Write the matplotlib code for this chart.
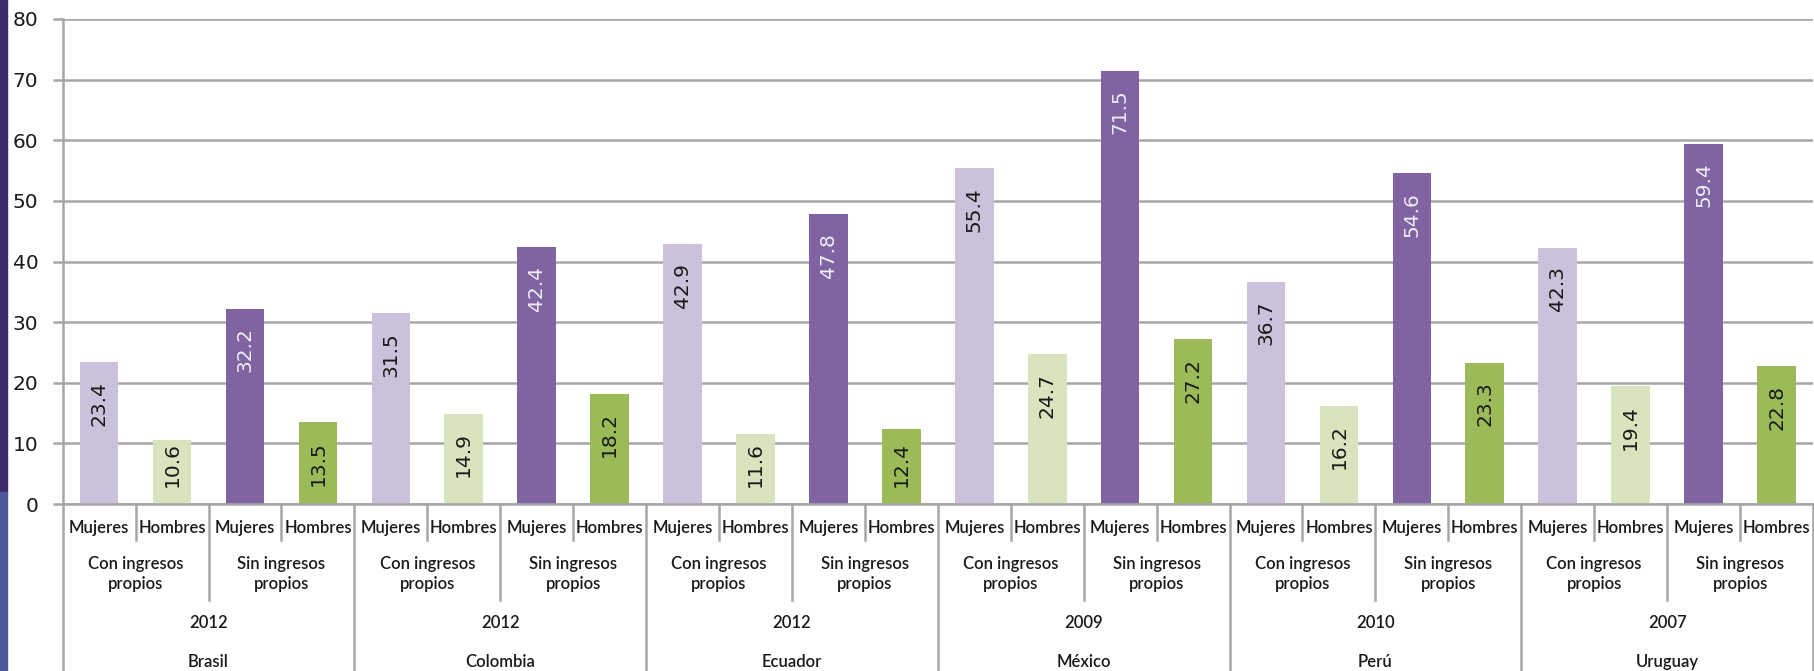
import numpy as np
import matplotlib.pyplot as plt
from matplotlib.patches import Rectangle

paises = ["Brasil", "Colombia", "Ecuador", "México", "Perú", "Uruguay"]
anios = ["2012", "2012", "2012", "2009", "2010", "2007"]
grupos = ["Con ingresos\npropios", "Sin ingresos\npropios"]
sexos = ["Mujeres", "Hombres"]

# orden por pais: con ingresos (mujeres, hombres), sin ingresos (mujeres, hombres)
con_mujeres = [23.4, 31.5, 42.9, 55.4, 36.7, 42.3]
con_hombres = [10.6, 14.9, 11.6, 24.7, 16.2, 19.4]
sin_mujeres = [32.2, 42.4, 47.8, 71.5, 54.6, 59.4]
sin_hombres = [13.5, 18.2, 12.4, 27.2, 23.3, 22.8]

colores = ["#ccc1da", "#d7e4bd", "#8064a2", "#9bbb59"]
col_texto = ["#1a1a1a", "#1a1a1a", "#f0ecf5", "#1a1a1a"]

W, H = 1815, 671
fig = plt.figure(figsize=(W / 100, H / 100), dpi=100)
fig.patch.set_facecolor("white")

# franja del fondo de la diapositiva a la izquierda
fig.patches.append(Rectangle((0, 0.267), 7 / W, 0.733, transform=fig.transFigure,
                             color="#3d2a6b", zorder=0))
fig.patches.append(Rectangle((0, 0), 7 / W, 0.267, transform=fig.transFigure,
                             color="#4f5899", zorder=0))

ax_l, ax_r, ax_t, ax_b = 62.7, 1813, 19, 504
ax = fig.add_axes([ax_l / W, (H - ax_b) / H, (ax_r - ax_l) / W, (ax_b - ax_t) / H])

series = [con_mujeres, con_hombres, sin_mujeres, sin_hombres]
n = len(paises)
largo = 7.6   # largo de la etiqueta en unidades del eje
for k, vals in enumerate(series):
    x = np.arange(n) * 4 + k + 0.5
    ax.bar(x, vals, width=0.53, color=colores[k], zorder=3)
    for xi, v in zip(x, vals):
        top = v - 3.1
        if top - largo < 2.6:
            top = 2.6 + largo
        ax.text(xi, top, f"{v:.1f}", rotation=90, ha="center", va="top",
                fontsize=14.5, color=col_texto[k], family="DejaVu Sans", zorder=4)

ax.set_xlim(0, 4 * n)
ax.set_ylim(0, 80)
ax.set_yticks(range(0, 81, 10))
ax.yaxis.grid(True, color="#a6a6a6", linewidth=1.8, zorder=0)
for s in ["top", "right", "bottom"]:
    ax.spines[s].set_visible(False)
ax.spines["left"].set_color("#a6a6a6")
ax.spines["left"].set_linewidth(1.8)
ax.tick_params(axis="y", length=7.5, width=1.8, color="#a6a6a6", labelsize=14.5,
               labelcolor="#1a1a1a", pad=10)
ax.set_xticks([])

# ejes de categorias multinivel
tr = ax.get_xaxis_transform()
lc = "#a6a6a6"
ax.plot([0, 4 * n], [0, 0], color=lc, lw=1.8, transform=tr, clip_on=False, zorder=5)
for i in range(4 * n + 1):
    if i % 4 == 0:
        y0 = -0.345
    elif i % 2 == 0:
        y0 = -0.198
    else:
        y0 = -0.074
    ax.plot([i, i], [0, y0], color=lc, lw=1.8, transform=tr, clip_on=False)

fs = 12
fk = dict(transform=tr, ha="center", va="center", fontsize=fs, family="Lato",
          weight="semibold", color="#1a1a1a")
for p in range(n):
    for g in range(2):
        for s in range(2):
            ax.text(p * 4 + g * 2 + s + 0.5, -0.05, sexos[s], **fk)
        ax.text(p * 4 + g * 2 + 1, -0.145, grupos[g], linespacing=1.3, **fk)
    ax.text(p * 4 + 2, -0.245, anios[p], **fk)
    ax.text(p * 4 + 2, -0.325, paises[p], **fk)

fig.savefig("out.png", dpi=100)
